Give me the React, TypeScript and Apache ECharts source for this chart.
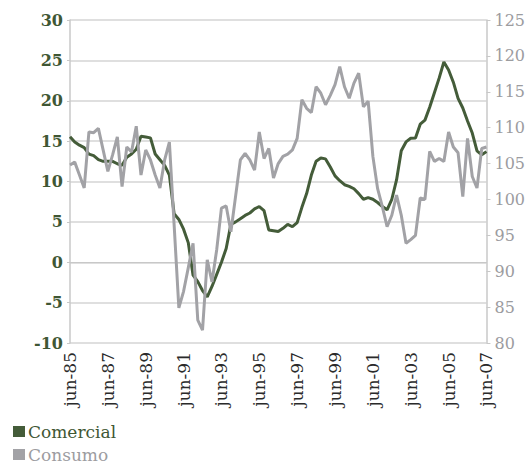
import React, { useEffect, useRef } from "react";
import * as echarts from "echarts";

const MONTHS = ["jun", "sep", "dic", "mar"];
const START_YEAR = 85;
const N_QUARTERS = 89;

const categories: string[] = [];
for (let i = 0; i < N_QUARTERS; i++) {
  const m = MONTHS[i % 4];
  const yr = (START_YEAR + Math.floor((i + 2) / 4)) % 100;
  categories.push(`${m}-${String(yr).padStart(2, "0")}`);
}

const comercial = [
  15.55, 14.9, 14.5, 14.2, 13.4, 13.2, 12.7, 12.5, 12.5, 12.5,
  12.2, 12.0, 13.0, 13.4, 14.0, 15.6, 15.5, 15.4, 13.4, 12.7,
  12.0, 10.8, 6.0, 5.3, 4.1, 2.4, -1.6, -2.4, -3.5, -4.3,
  -3.0, -1.5, 0.0, 1.7, 4.7, 5.0, 5.4, 5.8, 6.1, 6.6,
  6.9, 6.4, 4.0, 3.9, 3.8, 4.2, 4.7, 4.4, 4.9, 6.8,
  8.5, 10.8, 12.5, 12.9, 12.8, 11.8, 10.7, 10.1, 9.6, 9.4,
  9.1, 8.5, 7.8, 8.0, 7.8, 7.4, 6.9, 6.5, 7.8, 10.2,
  13.8, 14.9, 15.35, 15.4, 17.1, 17.6, 19.2, 21.0, 22.8, 24.8,
  23.8, 22.3, 20.3, 19.1, 17.5, 16.0, 13.8, 13.3, 13.7,
];

const consumo = [
  104.8, 105.2, 103.4, 101.6, 109.4, 109.3, 109.9, 106.9, 103.9, 106.2,
  108.7, 101.8, 107.3, 106.6, 110.2, 103.4, 106.9, 105.5, 103.4, 101.6,
  105.5, 108.0, 96.5, 84.9, 87.2, 90.5, 93.9, 83.2, 81.8, 91.6,
  88.5, 93.0, 98.8, 99.1, 95.5, 100.5, 105.5, 106.4, 105.5, 104.1,
  109.4, 105.7, 107.1, 103.0, 105.0, 106.0, 106.3, 106.9, 108.5, 113.9,
  112.7, 112.1, 115.7, 114.8, 113.2, 114.5, 116.0, 118.5, 115.7, 114.1,
  116.2, 117.6, 112.9, 113.7, 106.0, 101.5, 99.0, 96.2, 97.8, 100.6,
  97.8, 93.9, 94.4, 95.0, 100.2, 100.0, 106.7, 105.3, 105.7, 105.3,
  109.4, 107.3, 106.5, 100.4, 108.5, 103.2, 101.6, 107.1, 107.3,
];

const GREEN = "#445c39";
const GREEN_TEXT = "#3f5734";
const GREY = "#a2a2a6";
const GREY_TEXT = "#9c9c9f";
const FONT = "DejaVu Serif";

export default function App() {
  const ref = useRef<HTMLDivElement>(null);
  useEffect(() => {
    if (!ref.current) return;
    const chart = echarts.init(ref.current, undefined, { renderer: "svg" });
    chart.setOption({
      animation: false,
      backgroundColor: "#ffffff",
      grid: { left: 70, right: 40, top: 20, bottom: 123, containLabel: false },
      legend: {
        orient: "vertical",
        left: 13,
        top: 423,
        height: 60,
        padding: 0,
        itemWidth: 12,
        itemHeight: 11,
        itemGap: 6,
        icon: "rect",
        textStyle: { fontFamily: FONT, fontSize: 17, padding: [0, 0, 0, -2] },
        data: [
          { name: "Comercial", textStyle: { color: GREEN_TEXT } },
          { name: "Consumo", textStyle: { color: GREY_TEXT } },
        ],
      },
      xAxis: {
        type: "category",
        data: categories,
        boundaryGap: false,
        axisLine: { show: true, lineStyle: { color: "#c8c8c8", width: 1 } },
        axisTick: { show: false },
        axisLabel: {
          interval: 7,
          rotate: 90,
          margin: 9,
          color: "#2a2a2a",
          fontFamily: FONT,
          fontSize: 17,
        },
        splitLine: { show: false },
      },
      yAxis: [
        {
          type: "value",
          min: -10,
          max: 30,
          interval: 5,
          position: "left",
          axisLine: { show: true, lineStyle: { color: "#c8c8c8", width: 1.5 } },
          axisTick: { show: true, length: 3, lineStyle: { color: "#c8c8c8" } },
          axisLabel: {
            margin: 7,
            color: GREEN_TEXT,
            fontFamily: FONT,
            fontSize: 16,
            fontWeight: "bold",
          },
          splitLine: { show: true, lineStyle: { color: "#d4d4d4", width: 1.5 } },
        },
        {
          type: "value",
          min: 80,
          max: 125,
          interval: 5,
          position: "right",
          axisLine: { show: true, lineStyle: { color: "#c8c8c8", width: 1.5 } },
          axisTick: { show: true, length: 4, lineStyle: { color: "#c8c8c8" } },
          axisLabel: {
            margin: 8,
            color: GREY_TEXT,
            fontFamily: FONT,
            fontSize: 16,
          },
          splitLine: { show: false },
        },
      ],
      series: [
        {
          name: "Comercial",
          type: "line",
          yAxisIndex: 0,
          data: comercial,
          symbol: "none",
          lineStyle: { color: GREEN, width: 3 },
          itemStyle: { color: GREEN },
        },
        {
          name: "Consumo",
          type: "line",
          yAxisIndex: 1,
          data: consumo,
          symbol: "none",
          lineStyle: { color: GREY, width: 3 },
          itemStyle: { color: GREY },
        },
      ],
    });
    return () => chart.dispose();
  }, []);
  return (
    <div
      ref={ref}
      style={{ position: "fixed", left: 0, top: 0, width: 528, height: 466, background: "#fff" }}
    />
  );
}
